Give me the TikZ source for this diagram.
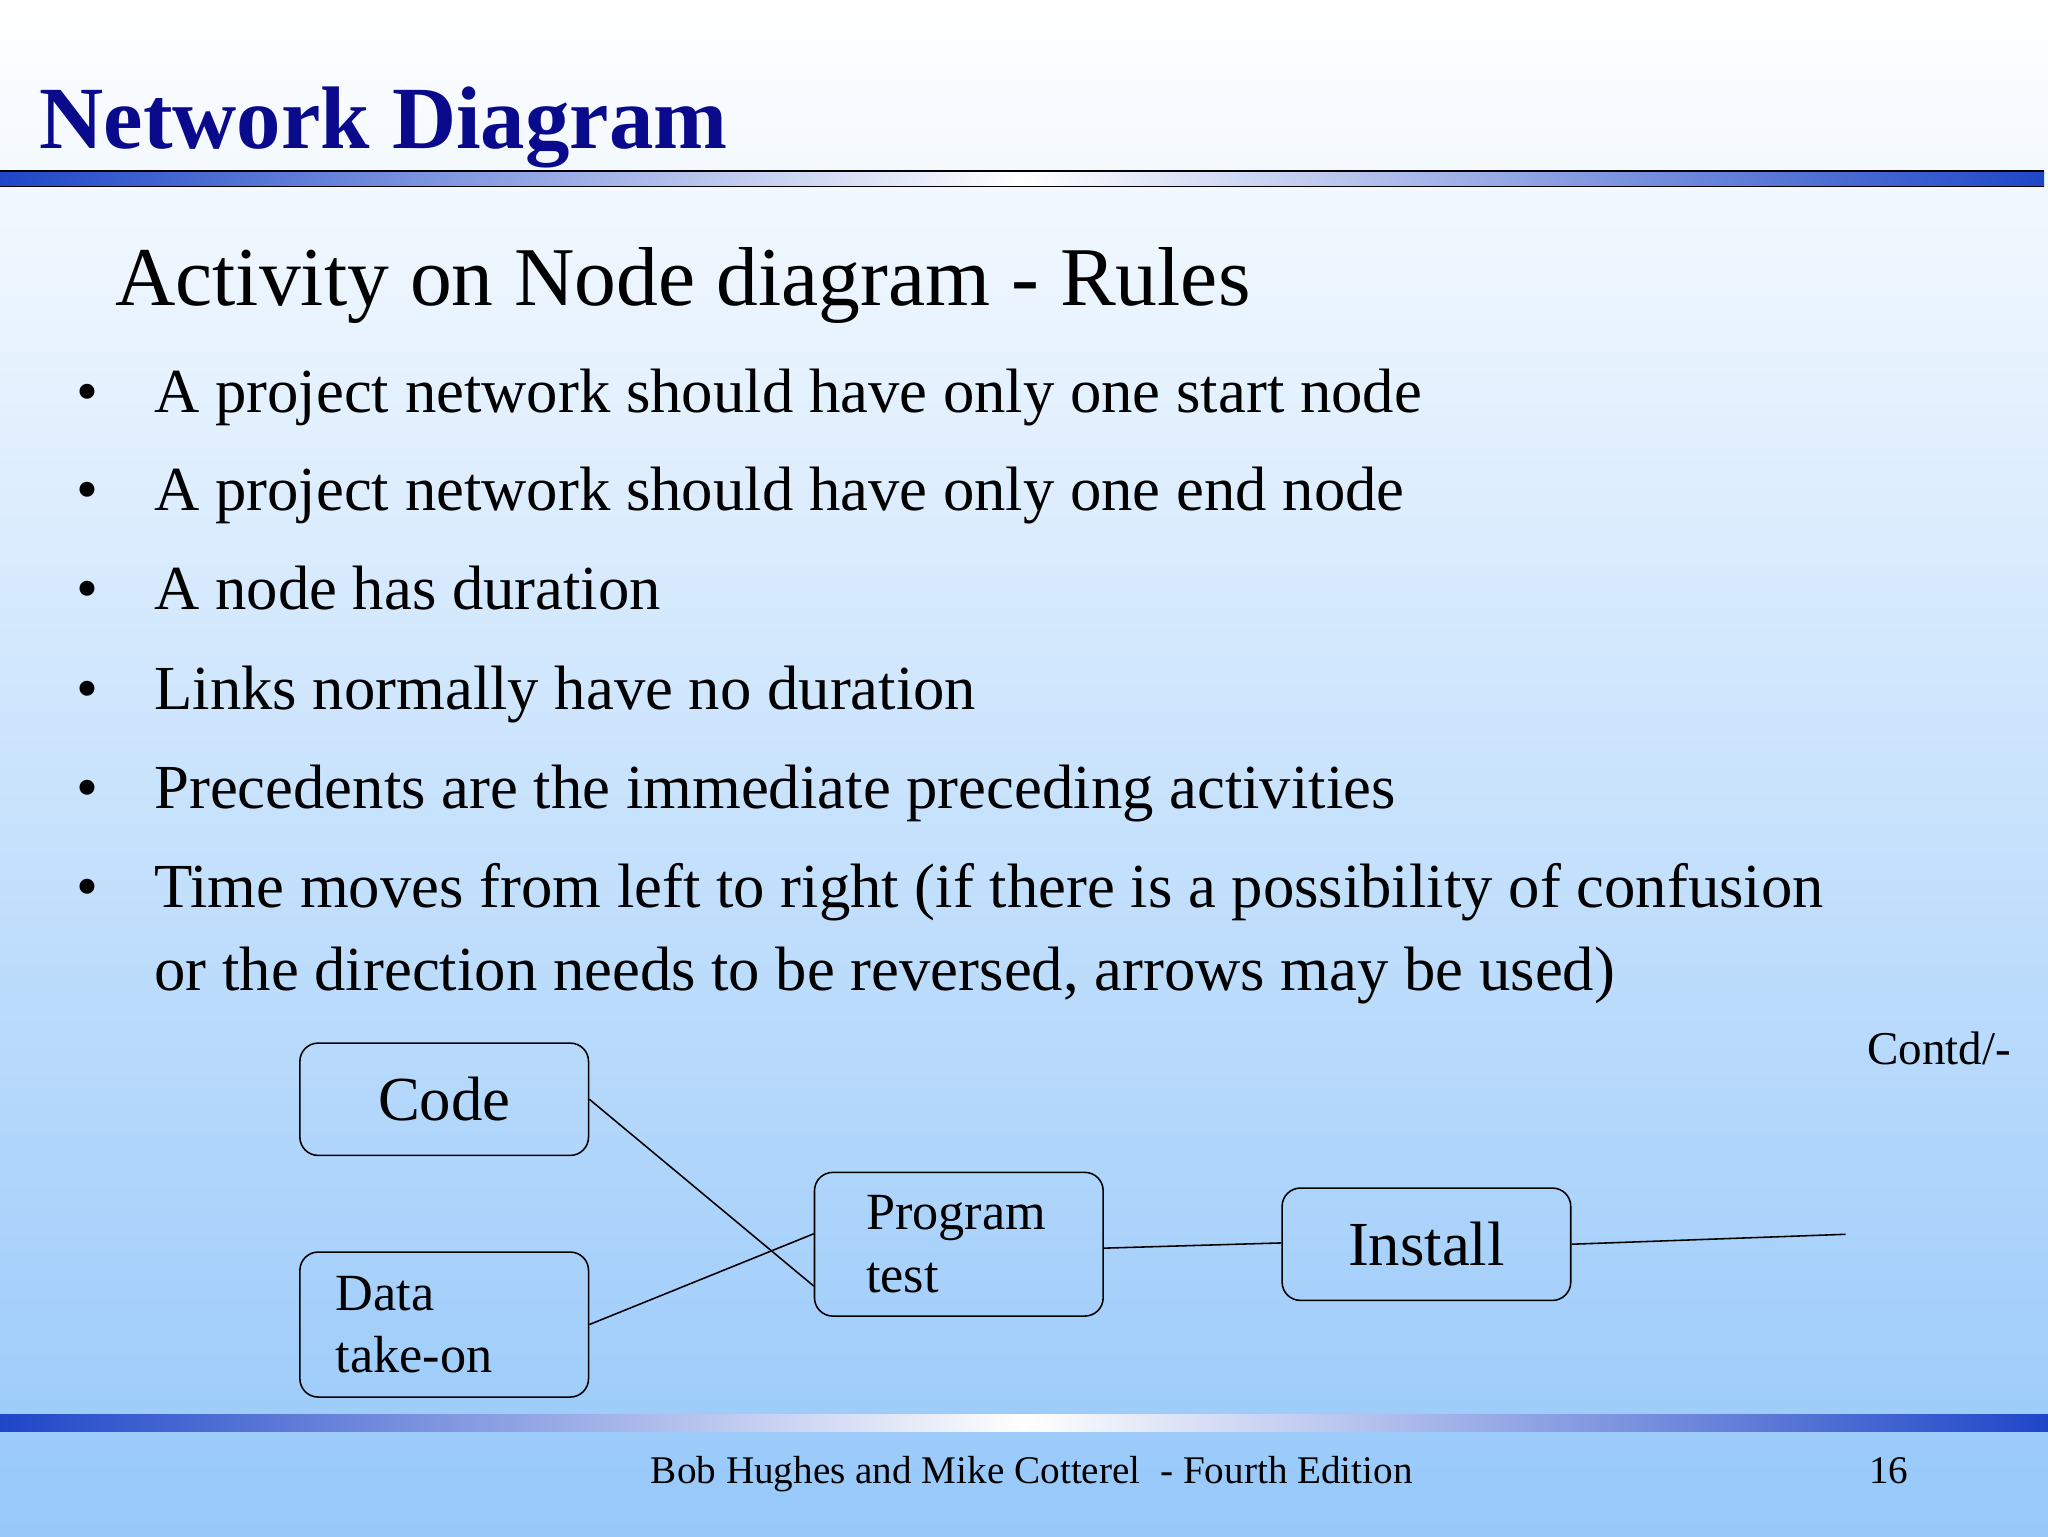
\documentclass[tikz,border=0pt]{standalone}
\usepackage{fontspec}
\setmainfont{Liberation Serif}
\definecolor{bgtop}{RGB}{255,255,255}
\definecolor{bgbot}{RGB}{150,200,250}
\definecolor{ttl}{RGB}{10,10,140}
\definecolor{bar}{RGB}{30,70,200}
\tikzset{box/.style={draw,rounded corners=14pt,line width=1.2pt,minimum width=221pt,anchor=north west,inner sep=0pt},
bul/.style={anchor=base west,font=\fontsize{48}{58}\selectfont,inner sep=0pt},
lnk/.style={line width=1.2pt}}
\begin{document}
\begin{tikzpicture}[x=1pt,y=-1pt]
\useasboundingbox (0,0) rectangle (1568,1176);
\shade[top color=bgtop,bottom color=bgbot] (0,0) rectangle (1568,1176);
\node[anchor=base west,inner sep=0pt,text=ttl,font=\fontsize{68}{80}\selectfont\bfseries] (t) at (30,114) {Network Diagram};
\shade[left color=bar,right color=bar,middle color=white] (0,131) rectangle (1565,143);
\draw[line width=1pt] (0,131) -- (1565,131) (0,143) -- (1565,143);
\shade[left color=bar,right color=bar,middle color=white] (0,1083) rectangle (1568,1096);
\node[anchor=base west,inner sep=0pt,font=\fontsize{64}{76}\selectfont] (st) at (88,234) {Activity on Node diagram - Rules};
\foreach \y/\t [count=\i] in {316/A project network should have only one start node,
391/A project network should have only one end node,
467/A node has duration,
543/Links normally have no duration,
619/Precedents are the immediate preceding activities,
695/Time moves from left to right (if there is a possibility of confusion}{
\node[bul] (b\i) at (58,\y) {\textbullet};
\node[bul] (l\i) at (118,\y) {\t};}
\node[bul] (l7) at (118,758) {or the direction needs to be reversed, arrows may be used)};
\node[anchor=base east,inner sep=0pt,font=\fontsize{36}{40}\selectfont] (c) at (1540,815) {Contd/-};
\node[box,minimum height=86pt] (code) at (229,798) {};
\node[font=\fontsize{48}{56}\selectfont] at (code.center) {Code};
\node[box,minimum height=111pt] (data) at (229,958) {};
\node[anchor=west,align=left,font=\fontsize{40}{48}\selectfont,inner sep=0pt] at ([xshift=28pt]data.west) {Data\\take-on};
\node[box,minimum height=110pt] (prog) at (623,897) {};
\node[anchor=west,align=left,font=\fontsize{40}{48}\selectfont,inner sep=0pt] at ([xshift=40pt]prog.west) {Program\\test};
\node[box,minimum height=86pt] (inst) at (981,909) {};
\node[font=\fontsize{48}{56}\selectfont] at (inst.center) {Install};
\coordinate (e) at (1413,945);
\draw[lnk] (code.east) -- ([yshift=-32pt]prog.west);
\draw[lnk] (data.east) -- ([yshift=8pt]prog.west);
\draw[lnk] ([yshift=-3pt]prog.east) -- ([yshift=1pt]inst.west);
\draw[lnk] (inst.east) -- (e);
\node[anchor=base,inner sep=0pt,font=\fontsize{30}{36}\selectfont] (f) at (790,1136) {Bob Hughes and Mike Cotterel\ \ - Fourth Edition};
\node[anchor=base,inner sep=0pt,font=\fontsize{30}{36}\selectfont] (p) at (1446,1136) {16};
\end{tikzpicture}
\end{document}
